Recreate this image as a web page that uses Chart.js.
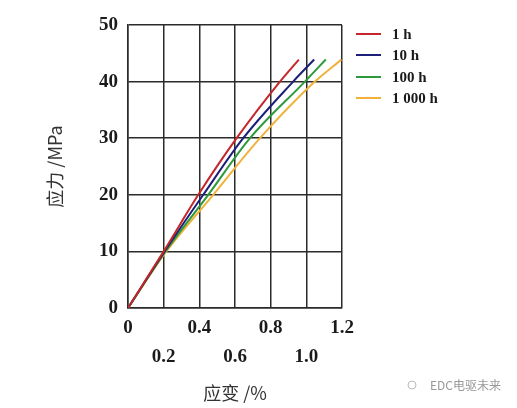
<!DOCTYPE html>
<html>
<head>
<meta charset="utf-8">
<title>应力-应变</title>
<script src="https://cdn.jsdelivr.net/npm/chart.js@4.4.1/dist/chart.umd.min.js"></script>
<style>
  body { margin: 0; background: #fff; }
  #wrap { width: 517px; height: 408px; }
</style>
</head>
<body>
<div id="wrap"><canvas id="mychart" width="517" height="408"></canvas></div>
<script>
// start data
const labels = ['1 h', '10 h', '100 h', '1 000 h'];
const colors = ['#c4262b', '#1c1f78', '#2c9a3a', '#f0b23c'];
const stress = [0, 10, 20, 30, 40, 43.9];
const strain1h = [0, 0.200, 0.394, 0.609, 0.852, 0.958];
const strain10h = [0, 0.205, 0.422, 0.646, 0.926, 1.044];
const strain100h = [0, 0.210, 0.450, 0.684, 0.992, 1.109];
const strain1000h = [0, 0.215, 0.478, 0.740, 1.048, 1.197];
const xticks = ['0', '0.2', '0.4', '0.6', '0.8', '1.0', '1.2'];
// end data

const strains = [strain1h, strain10h, strain100h, strain1000h];

function makeset(i){
  return {
    label: labels[i],
    data: strains[i].map((x, k) => ({x: x, y: stress[k]})),
    borderColor: colors[i],
    backgroundColor: colors[i],
    borderWidth: 2,
    pointRadius: 0,
    showLine: true,
    cubicInterpolationMode: 'monotone'
  };
}

// start legend + watermark
const extras = {
  id: 'extras',
  afterDraw(chart){
    const c = chart.ctx;
    c.save();
    const ys = [34, 55, 77, 98];
    chart.data.datasets.forEach((ds, i) => {
      c.strokeStyle = ds.borderColor;
      c.lineWidth = 2;
      c.beginPath();
      c.moveTo(356, ys[i]);
      c.lineTo(381, ys[i]);
      c.stroke();
      c.fillStyle = '#1a1a1a';
      c.font = 'bold 15px "Liberation Serif"';
      c.textBaseline = 'middle';
      c.fillText(ds.label, 392, ys[i] + 1);
    });
    c.strokeStyle = '#bbb';
    c.lineWidth = 1;
    c.beginPath();
    c.arc(412, 385, 4, 0, Math.PI * 2);
    c.stroke();
    c.fillStyle = '#999';
    c.font = '12px "Noto Sans CJK SC"';
    c.fillText('EDC电驱未来', 430, 385);
    c.restore();
  }
};
// end legend + watermark

const ctx = document.getElementById('mychart');
let abc = new Chart(ctx, {
  type: 'scatter',
  data: { datasets: [0, 1, 2, 3].map(makeset) },
  options: {
    responsive: false,
    animation: false,
    layout: { padding: { left: 0, right: 175, top: 25, bottom: 0 } },
    plugins: { legend: { display: false }, tooltip: { enabled: false } },
    scales: {
      x: {
        type: 'linear',
        min: 0,
        max: 1.2,
        afterFit: s => { s.height = 100; },
        afterBuildTicks: s => { s.ticks = xticks.map(v => ({value: parseFloat(v)})); },
        grid: { color: '#2b2b2b', lineWidth: 1.5, drawTicks: false },
        border: { color: '#2b2b2b', width: 1.5 },
        ticks: {
          padding: 6,
          color: '#1a1a1a',
          font: { family: 'Liberation Serif', size: 19, weight: 'bold', lineHeight: 1.5 },
          maxRotation: 0,
          autoSkip: false,
          callback: (v, i) => i % 2 == 0 ? [xticks[i], ''] : ['', xticks[i]]
        },
        title: {
          display: true,
          text: '应变 /%',
          color: '#333',
          font: { family: 'Noto Sans CJK SC', size: 18, lineHeight: 1.2 },
          padding: { top: 0, bottom: 4 }
        }
      },
      y: {
        min: 0,
        max: 50,
        afterFit: s => { s.width = 128; },
        grid: { color: '#2b2b2b', lineWidth: 1.5, drawTicks: false },
        border: { color: '#2b2b2b', width: 1.5 },
        ticks: {
          stepSize: 10,
          padding: 10,
          color: '#1a1a1a',
          font: { family: 'Liberation Serif', size: 19, weight: 'bold' }
        },
        title: {
          display: true,
          text: '应力 /MPa',
          color: '#333',
          font: { family: 'Noto Sans CJK SC', size: 18, lineHeight: 1.2 },
          padding: { top: 44, bottom: 0 }
        }
      }
    }
  },
  plugins: [extras]
});
</script>
</body>
</html>
